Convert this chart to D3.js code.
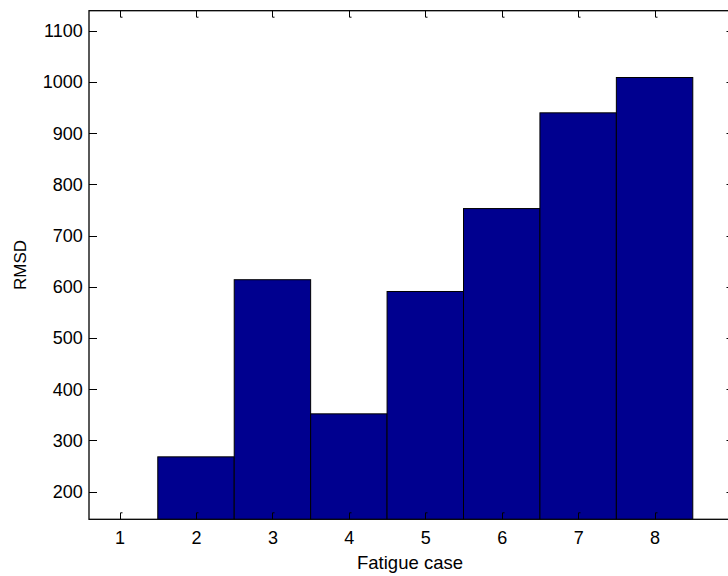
<!DOCTYPE html>
<html>
<head>
<meta charset="utf-8">
<script src="https://cdn.jsdelivr.net/npm/d3@7"></script>
<style>
  html, body { margin: 0; padding: 0; background: #fff; }
  svg { display: block; }
  text { font-family: "Liberation Sans", Arial, sans-serif; fill: #000; }
</style>
</head>
<body>
<svg id="chart" width="728" height="576"></svg>
<script>
// Fatigue cases and their RMSD values
const cases = [1, 2, 3, 4, 5, 6, 7, 8];
const rmsd = [0, 268, 614, 352, 591, 753, 940, 1009];
const yTicks = [200, 300, 400, 500, 600, 700, 800, 900, 1000, 1100];
const xDomain = [0.6, 9.0];
const yDomain = [146, 1139.5];

const plotL = 89, plotR = 731, plotT = 10.7, plotB = 519.3;

const svg = d3.select("#chart");

const x = d3.scaleLinear().domain(xDomain).range([plotL, plotR]);
const y = d3.scaleLinear().domain(yDomain).range([plotB, plotT]);

// clip bars to the axes box
svg.append("defs").append("clipPath").attr("id", "plotClip")
  .append("rect").attr("x", plotL).attr("y", plotT)
  .attr("width", plotR - plotL).attr("height", plotB - plotT);

const barW = x(1.5) - x(0.5);
const data = cases.map((c, i) => ({ c, v: rmsd[i] }));

svg.append("g").attr("clip-path", "url(#plotClip)")
  .selectAll("rect").data(data.filter(d => d.v > yDomain[0])).join("rect")
  .attr("x", d => x(d.c - 0.5))
  .attr("width", barW)
  .attr("y", d => y(d.v))
  .attr("height", d => y(yDomain[0]) - y(d.v) + 2)
  .attr("fill", "rgb(0,0,143)")
  .attr("stroke", "#000")
  .attr("stroke-width", 1);

// axes box
svg.append("rect")
  .attr("x", plotL).attr("y", plotT)
  .attr("width", plotR - plotL).attr("height", plotB - plotT)
  .attr("fill", "none").attr("stroke", "#000").attr("stroke-width", 1.3);

const ticks = svg.append("g").attr("stroke", "#000").attr("stroke-width", 1).attr("fill", "none");

// x ticks on bottom and top (inward)
cases.forEach(c => {
  const px = Math.round(x(c)) + 0.5;
  ticks.append("path").attr("d", `M${px},${plotB}V${plotB - 6.5}h2`);
  ticks.append("path").attr("d", `M${px},${plotT}V${plotT + 6.5}h2`);
});

// y ticks on left and right (inward)
yTicks.forEach(v => {
  const py = Math.round(y(v)) + 0.5;
  ticks.append("path").attr("d", `M${plotL},${py}H${plotL + 8}`);
  ticks.append("path").attr("d", `M${plotR},${py}H${plotR - 4.5}`);
});

// tick labels
svg.append("g").selectAll("text").data(cases).join("text")
  .attr("x", d => x(d) + 0.5)
  .attr("y", 544)
  .attr("text-anchor", "middle")
  .attr("font-size", 18)
  .text(d => d);

svg.append("g").selectAll("text").data(yTicks).join("text")
  .attr("x", 82.7)
  .attr("y", d => y(d) + 6.3)
  .attr("text-anchor", "end")
  .attr("font-size", 18)
  .text(d => d);

// axis titles
svg.append("text")
  .attr("x", (plotL + plotR) / 2)
  .attr("y", 569)
  .attr("text-anchor", "middle")
  .attr("font-size", 18.5)
  .text("Fatigue case");

svg.append("text")
  .attr("transform", `translate(26,${(plotT + plotB) / 2}) rotate(-90)`)
  .attr("text-anchor", "middle")
  .attr("font-size", 17)
  .text("RMSD");
</script>
</body>
</html>
